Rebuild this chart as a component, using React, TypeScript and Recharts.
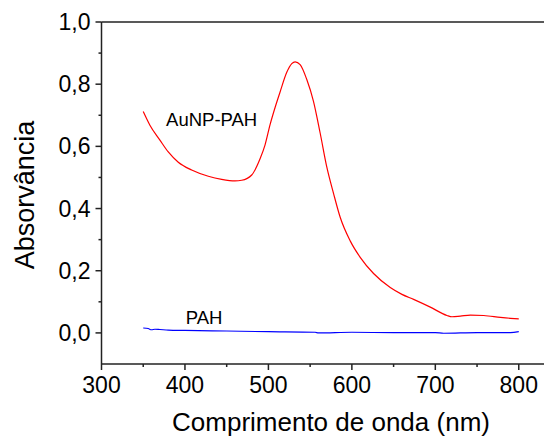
import { LineChart, Line, XAxis, YAxis, ReferenceDot, Label } from "recharts";

const auWavelength = [
    350, 358, 370, 380, 392, 408, 428, 444, 460, 468, 480, 490, 496, 502, 508, 514, 522, 528, 532, 538,
    546, 554, 562, 570, 578, 586, 598, 610, 626, 646, 660, 674, 694, 714, 720, 730, 742, 758, 778, 790, 800,
];
const auAbsorbance = [
    0.712, 0.668, 0.62, 0.582, 0.549, 0.524, 0.504, 0.494, 0.489, 0.491, 0.508, 0.56, 0.605, 0.67, 0.725, 0.775, 0.838, 0.866, 0.872, 0.863,
    0.815, 0.745, 0.643, 0.533, 0.449, 0.372, 0.296, 0.243, 0.191, 0.146, 0.124, 0.108, 0.083, 0.056, 0.052, 0.054, 0.057, 0.056, 0.05, 0.047, 0.045,
];

const pahWavelength = [350, 356, 360, 364, 370, 380, 400, 450, 500, 556, 560, 600, 650, 700, 710, 750, 790, 800];
const pahAbsorbance = [0.016, 0.014, 0.01, 0.012, 0.011, 0.009, 0.008, 0.006, 0.004, 0.002, 0.0, 0.002, 0.001, 0.001, -0.001, 0.001, 0.001, 0.004];

const xTicks = [300, 350, 400, 450, 500, 550, 600, 650, 700, 750, 800, 850];
const yTicks = [0, 0.1, 0.2, 0.3, 0.4, 0.5, 0.6, 0.7, 0.8, 0.9, 1.0];

const auData = auWavelength.map((x, i) => ({ x, y: auAbsorbance[i] }));
const pahData = pahWavelength.map((x, i) => ({ x, y: pahAbsorbance[i] }));

const FONT = "'Liberation Sans', Arial, sans-serif";
const AXIS = "#222";

function XTick({ x, y, payload }: any) {
    const v = payload.value;
    const major = v % 100 === 0;
    return (
        <g>
            <line x1={x} x2={x} y1={y} y2={y + (major ? 6 : 3)} stroke={AXIS} strokeWidth={1.5} />
            {major && (
                <text x={x} y={y + 29} textAnchor="middle" fontSize={23} fontFamily={FONT} fill="#000">
                    {v}
                </text>
            )}
        </g>
    );
}

function YTick({ x, y, payload }: any) {
    const v = payload.value;
    const major = Math.round(v * 10) % 2 === 0;
    const top = Math.round(v * 10) === 10;
    return (
        <g>
            <line x1={x} x2={x - (major ? 6 : 3)} y1={y} y2={y} stroke={AXIS} strokeWidth={1.5} />
            {/* top frame line of the plot box */}
            {top && <line x1={x} x2={x + 520} y1={y} y2={y} stroke={AXIS} strokeWidth={1.5} />}
            {major && (
                <text x={x - 11} y={y + 8} textAnchor="end" fontSize={23} fontFamily={FONT} fill="#000">
                    {v.toFixed(1).replace(".", ",")}
                </text>
            )}
        </g>
    );
}

const YTitle = ({ viewBox }: any) => {
    const cx = viewBox.x + 17;
    const cy = viewBox.y + viewBox.height / 2 + 2;
    return (
        <text
            x={cx}
            y={cy}
            transform={`rotate(-90 ${cx} ${cy})`}
            textAnchor="middle"
            dominantBaseline="central"
            fontSize={27}
            fontFamily={FONT}
            fill="#000"
        >
            Absorvância
        </text>
    );
};

export default function App() {
    return (
        <div style={{ width: 544, height: 430, overflow: "hidden" }}>
            <LineChart width={600} height={430} margin={{ top: 14, right: 47.5, bottom: 0, left: 0 }}>
                <XAxis
                    dataKey="x"
                    type="number"
                    domain={[300, 850]}
                    ticks={xTicks}
                    interval={0}
                    allowDataOverflow
                    height={74}
                    tickSize={0}
                    tickMargin={0}
                    tickLine={false}
                    tick={(p: any) => <XTick {...p} />}
                    axisLine={{ stroke: AXIS, strokeWidth: 1.5 }}
                >
                    <Label
                        value="Comprimento de onda (nm)"
                        position="insideBottom"
                        offset={7}
                        style={{ fontSize: 26, fontFamily: FONT, fill: "#000" }}
                    />
                </XAxis>
                <YAxis
                    dataKey="y"
                    type="number"
                    domain={[-0.1, 1.0]}
                    ticks={yTicks}
                    interval={0}
                    allowDataOverflow
                    width={93.5}
                    tickSize={0}
                    tickMargin={0}
                    tickLine={false}
                    tick={(p: any) => <YTick {...p} />}
                    axisLine={{ stroke: AXIS, strokeWidth: 1.5 }}
                >
                    <Label content={<YTitle />} />
                </YAxis>
                <Line
                    data={auData}
                    dataKey="y"
                    type="monotone"
                    stroke="#ff0000"
                    strokeWidth={1.2}
                    dot={false}
                    isAnimationActive={false}
                />
                <Line
                    data={pahData}
                    dataKey="y"
                    type="monotone"
                    stroke="#0000ff"
                    strokeWidth={1.1}
                    dot={false}
                    isAnimationActive={false}
                />
                <ReferenceDot
                    x={432}
                    y={0.688}
                    r={0}
                    stroke="none"
                    label={{ value: "AuNP-PAH", position: "center", fontSize: 18.5, fontFamily: FONT, fill: "#000" }}
                />
                <ReferenceDot
                    x={423}
                    y={0.049}
                    r={0}
                    stroke="none"
                    label={{ value: "PAH", position: "center", fontSize: 18.5, fontFamily: FONT, fill: "#000" }}
                />
            </LineChart>
        </div>
    );
}
